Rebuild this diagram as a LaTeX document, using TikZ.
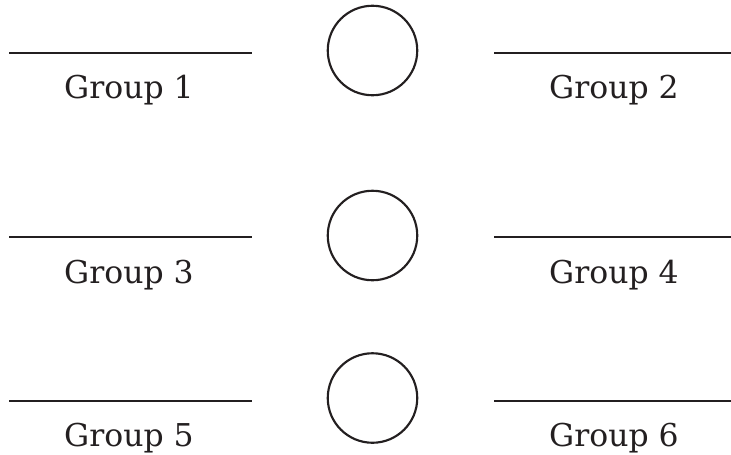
\documentclass[tikz,border=0pt]{standalone}
\usepackage{fontspec}
\setmainfont{DejaVu Serif}
\definecolor{ink}{HTML}{231F20}
\begin{document}
\begin{tikzpicture}[x=0.75pt,y=-0.75pt,
  blank/.style={draw=ink,line width=1.5pt},
  ring/.style={circle,draw=ink,line width=1.6pt,minimum size=89.5*0.75pt,inner sep=0pt},
  label/.style={anchor=base,text=ink,font=\fontsize{23.6pt}{28pt}\selectfont,inner sep=0pt}]
\useasboundingbox (0,0) rectangle (731,454);
% row 1
\coordinate (l1a) at (9,52.5); \coordinate (l1b) at (252,52.5);
\coordinate (r1a) at (494,52.5); \coordinate (r1b) at (734,52.5);
\draw[blank] (l1a) -- (l1b);
\draw[blank] (r1a) -- (r1b);
\node[ring] (c1) at (372.5,50.5) {};
\node[label] (g1) at (129,98) {Group 1};
\node[label] (g2) at (614,98) {Group 2};
% row 2
\coordinate (l2a) at (9,237); \coordinate (l2b) at (252,237);
\coordinate (r2a) at (494,237); \coordinate (r2b) at (734,237);
\draw[blank] (l2a) -- (l2b);
\draw[blank] (r2a) -- (r2b);
\node[ring] (c2) at (372.5,235.5) {};
\node[label] (g3) at (129,283) {Group 3};
\node[label] (g4) at (614,283) {Group 4};
% row 3
\coordinate (l3a) at (9,401); \coordinate (l3b) at (252,401);
\coordinate (r3a) at (494,401); \coordinate (r3b) at (734,401);
\draw[blank] (l3a) -- (l3b);
\draw[blank] (r3a) -- (r3b);
\node[ring] (c3) at (372.5,398) {};
\node[label] (g5) at (129,446) {Group 5};
\node[label] (g6) at (614,446) {Group 6};
\end{tikzpicture}
\end{document}
